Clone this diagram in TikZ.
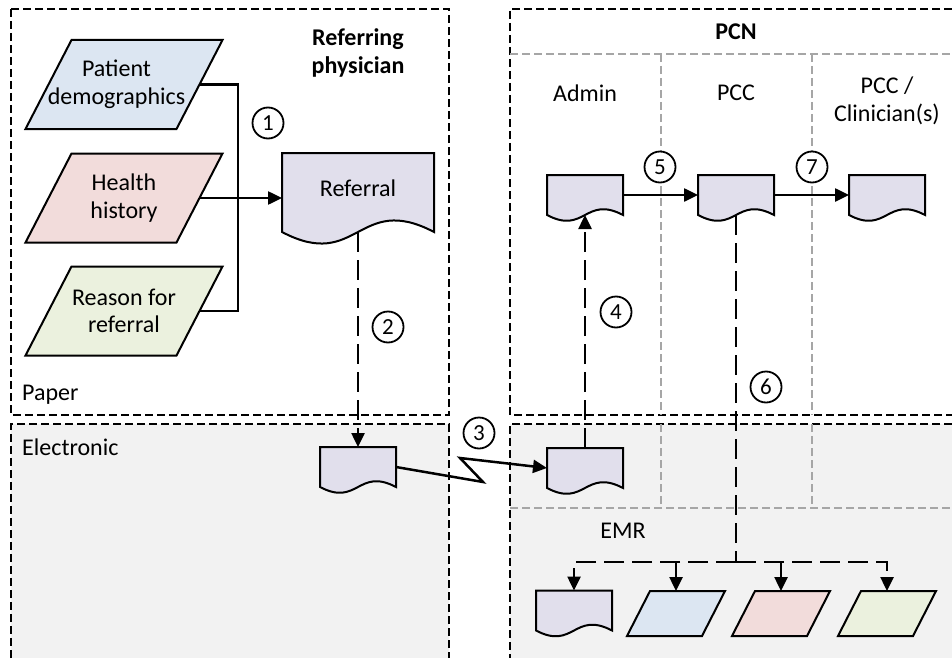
\documentclass[tikz,border=0pt]{standalone}
\usepackage{fontspec}
\setmainfont{Carlito}
\usetikzlibrary{arrows.meta,calc}
\pgfdeclarelayer{back}
\pgfsetlayers{back,main}

\definecolor{docfill}{HTML}{E1DFEC}
\definecolor{bluefill}{HTML}{DCE6F2}
\definecolor{pinkfill}{HTML}{F2DCDB}
\definecolor{greenfill}{HTML}{EBF1DE}
\definecolor{zonegray}{HTML}{F2F2F2}
\definecolor{laneline}{HTML}{A6A6A6}

% document symbol: straight top and sides, wavy bottom edge
\newcommand\docoutline[2]{%
  \begin{pgfonlayer}{back}
    \path[docline] (#1.south west) -- (#1.north west) -- (#1.north east) -- (#1.south east)
      .. controls ($(#1.south)+(0,-#2)$) and ($(#1.south)+(0,#2)$) .. (#1.south west) -- cycle;
  \end{pgfonlayer}}

% data symbol: parallelogram leaning right inside the node box; #2 = slant, #3 = fill
\newcommand\dataoutline[3]{%
  \begin{pgfonlayer}{back}
    \path[dataline, fill=#3] (#1.south west) -- ($(#1.north west)+(#2,0)$)
      -- (#1.north east) -- ($(#1.south east)+(-#2,0)$) -- cycle;
  \end{pgfonlayer}
  \coordinate (#1-right) at ($(#1.east)+(-#2/2,0)$);}

\tikzset{
  txt/.style={font=\fontsize{24}{27.5}\selectfont},
  caption/.style={txt, inner sep=0pt, align=center},
  title/.style={caption, font=\fontsize{24}{27.5}\selectfont\bfseries},
  zone/.style={draw=black, line width=1.8pt, dash pattern=on 8pt off 4pt},
  lane/.style={draw=laneline, line width=1.6pt, dash pattern=on 8pt off 4pt},
  docnode/.style={caption, outer sep=0pt},
  docbig/.style={docnode, minimum width=152pt, minimum height=79pt},
  docsmall/.style={docnode, minimum width=76pt, minimum height=40pt},
  docline/.style={draw=black, line width=2pt, fill=docfill},
  dataline/.style={draw=black, line width=2pt},
  databig/.style={docnode, minimum width=197pt, minimum height=89pt},
  datasmall/.style={docnode, minimum width=98pt, minimum height=45pt},
  link/.style={draw=black, line width=2.5pt},
  flow/.style={link, -{Triangle[length=14pt,width=13pt]}},
  flowdash/.style={flow, dash pattern=on 20pt off 8pt},
  stepmark/.style={circle, draw=black, fill=white, line width=1.8pt,
    minimum size=31pt, inner sep=0pt, font=\fontsize{23}{23}\selectfont},
}

\begin{document}
\begin{tikzpicture}[x=1pt,y=-1pt]
\useasboundingbox (0,0) rectangle (952,658);

% swim-lane frames
\begin{pgfonlayer}{back}
  \fill[zonegray] (11,424) rectangle (449,658);
  \fill[zonegray] (510,424) rectangle (952,658);
  \draw[zone] (11,9) rectangle (449,415);
  \draw[zone] (11,658) -- (11,424) -- (449,424) -- (449,658);
  \draw[zone] (952,9) -- (510,9) -- (510,415) -- (952,415);
  \draw[zone] (952,424) -- (510,424) -- (510,658);
  \draw[lane] (510,54) -- (952,54);
  \draw[lane] (661,54) -- (661,415);
  \draw[lane] (812,54) -- (812,415);
  \draw[lane] (661,424) -- (661,508);
  \draw[lane] (812,424) -- (812,508);
  \draw[lane] (510,508) -- (952,508);
\end{pgfonlayer}

% headings
\node[title] (refphys) at (358,53) {Referring\\physician};
\node[title] (pcn) at (736,32) {PCN};
\node[caption, anchor=west] (paper) at (22,395) {Paper};
\node[caption, anchor=west] (electronic) at (22,447) {Electronic};
\node[caption] (admin) at (585,93) {Admin};
\node[caption] (pcc) at (736,93) {PCC};
\node[caption] (clin) at (887,101) {PCC /\\Clinician(s)};
\node[caption] (emr) at (623,531) {EMR};

% referral inputs
\node[databig] (demo) at (124,84.5) {\hspace*{-15pt}Patient\\\hspace*{-15pt}demographics};
\dataoutline{demo}{46}{bluefill}
\node[databig] (hist) at (124,198) {Health\\history};
\dataoutline{hist}{46}{pinkfill}
\node[databig] (reason) at (124,311) {Reason for\\referral};
\dataoutline{reason}{46}{greenfill}

% documents
\node[docbig] (ref) at (358,192.5) {\raisebox{8pt}{Referral}};
\docoutline{ref}{40}
\node[docsmall] (edoc) at (358,467) {};
\docoutline{edoc}{20}
\node[docsmall] (admdoc) at (585,468) {};
\docoutline{admdoc}{20}
\node[docsmall] (admin2) at (585,195) {};
\docoutline{admin2}{20}
\node[docsmall] (pccdoc) at (736,195) {};
\docoutline{pccdoc}{20}
\node[docsmall] (clindoc) at (887,195) {};
\docoutline{clindoc}{20}

% EMR records
\node[docsmall] (emrdoc) at (574,610.5) {};
\docoutline{emrdoc}{20}
\node[datasmall] (emrblue) at (676,613.5) {};
\dataoutline{emrblue}{23}{bluefill}
\node[datasmall] (emrpink) at (781,613.5) {};
\dataoutline{emrpink}{23}{pinkfill}
\node[datasmall] (emrgreen) at (887,613.5) {};
\dataoutline{emrgreen}{23}{greenfill}

% step 1
\coordinate (merge) at (238,198);
\draw[link] (demo-right) -| (merge);
\draw[link] (reason-right) -| (merge);
\draw[flow] (hist-right) -- (hist-right -| ref.west);

% step 2
\draw[flowdash] (ref.south) -- (edoc.north);

% step 3
\draw[flow] (edoc.east) -- (483,482) -- (460,458) -- (admdoc.west);

% step 4
\draw[flowdash] (admdoc.north) -- (admin2.south);

% steps 5 and 7
\draw[flow] (admin2.east) -- (pccdoc.west);
\draw[flow] (pccdoc.east) -- (clindoc.west);

% step 6
\coordinate (hub) at (736,562);
\draw[link, dash pattern=on 20pt off 8pt] (pccdoc.south) -- (hub);
\draw[flowdash] (hub) -| (emrdoc.north);
\draw[flowdash] (hub) -| (emrgreen.north);
\draw[flow] (emrblue.north |- hub) -- (emrblue.north);
\draw[flow] (emrpink.north |- hub) -- (emrpink.north);

% step numbers
\node[stepmark] (s1) at (268,123) {1};
\node[stepmark] (s2) at (388,327) {2};
\node[stepmark] (s3) at (479,433) {3};
\node[stepmark] (s4) at (616,312) {4};
\node[stepmark] (s5) at (660,167) {5};
\node[stepmark] (s6) at (766,387) {6};
\node[stepmark] (s7) at (812,167) {7};
\end{tikzpicture}
\end{document}
